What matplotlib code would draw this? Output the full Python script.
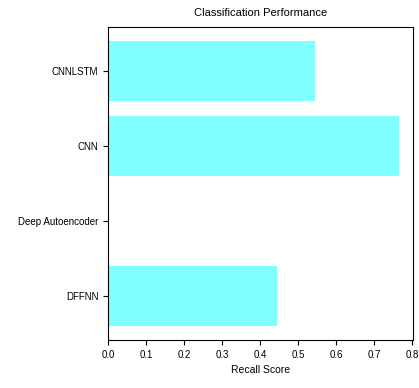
import matplotlib
matplotlib.use("Agg")
import matplotlib.pyplot as plt

# model names and recall scores (bottom to top)
models = ["DFFNN", "Deep Autoencoder", "CNN", "CNNLSTM"]
recall = [0.445, 0.0, 0.765, 0.545]
xticks = [0.0, 0.1, 0.2, 0.3, 0.4, 0.5, 0.6, 0.7, 0.8]

plt.rcParams['font.family'] = ['Liberation Sans Narrow', 'Liberation Sans', 'DejaVu Sans']

fig = plt.figure(figsize=(4.19, 3.88), dpi=100)
ax = fig.add_axes([0.258, 0.124, 0.728, 0.806])
ax.barh(models, recall, color='cyan', alpha=0.5)
ax.set_xticks(xticks)
ax.set_xticklabels(["%.1f" % t for t in xticks])
ax.tick_params(labelsize=7)
ax.set_xlabel("Recall Score", fontsize=7.5)
ax.set_title("Classification Performance", fontsize=8, pad=8)
fig.savefig("out.png", dpi=100)
